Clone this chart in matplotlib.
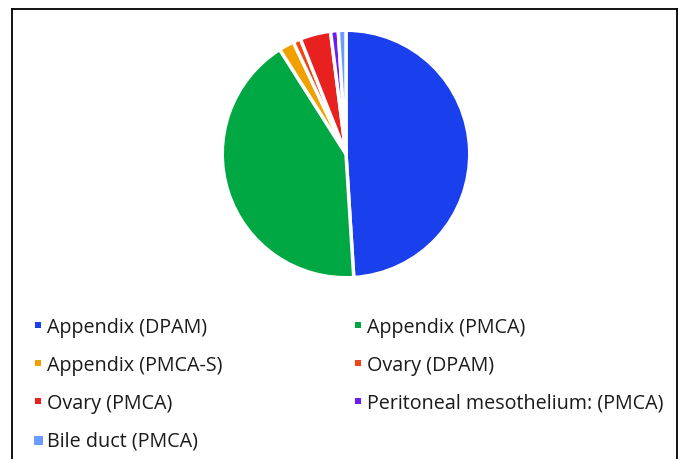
import matplotlib
matplotlib.use("Agg")
import matplotlib.pyplot as plt
from matplotlib.lines import Line2D

categories = ["Appendix (DPAM)", "Appendix (PMCA)", "Appendix (PMCA-S)", "Ovary (DPAM)",
              "Ovary (PMCA)", "Peritoneal mesothelium: (PMCA)", "Bile duct (PMCA)"]
values = [49, 42, 2, 1, 4, 1, 1]
colors = ["#1a3fec", "#00a844", "#f0a100", "#f04512", "#e8201f", "#6b1cf5", "#6c9cff"]
marker_sizes = [6, 6, 6, 6, 6, 6, 9]

W, H = 680, 459
fig = plt.figure(figsize=(W / 100, H / 100), dpi=100)
fig.patch.set_facecolor("white")

# pie
cx, cy, r = 346, 154, 125
ax = fig.add_axes([(cx - r) / W, (H - cy - r) / H, 2 * r / W, 2 * r / H])
ax.pie(values, colors=colors, startangle=90, counterclock=False,
       wedgeprops=dict(edgecolor="white", linewidth=2.5))
ax.set_xlim(-1.01, 1.01)
ax.set_ylim(-1.01, 1.01)
ax.set_aspect("equal")
ax.axis("off")

# frame
def px(x, y):
    return x / W, 1 - y / H

for (x0, y0), (x1, y1) in [((12, 9), (677, 9)), ((12, 9), (12, 459)), ((677, 9), (677, 459))]:
    a, b = px(x0, y0)
    c, d = px(x1, y1)
    fig.add_artist(Line2D([a, c], [b, d], color="black", linewidth=1.3))

# legend
col_x = [38, 358]
row_y = [325, 363, 401, 439.5]
for i, (lab, col, ms) in enumerate(zip(categories, colors, marker_sizes)):
    row, c = divmod(i, 2)
    mx, my = px(col_x[c], row_y[row])
    fig.add_artist(Line2D([mx], [my], marker="s", markersize=ms * 0.72, color=col,
                          markeredgewidth=0, linestyle="none"))
    tx, ty = px(col_x[c] + 9, row_y[row])
    fig.text(tx, ty, lab, fontsize=14.2, family="Open Sans", color="#1a1a1a",
             ha="left", va="center_baseline")

fig.savefig("out.png", dpi=100, facecolor="white")
